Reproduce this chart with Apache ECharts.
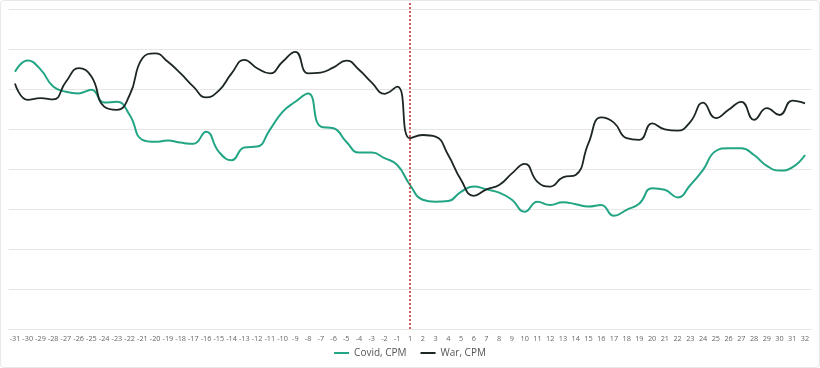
<!DOCTYPE html>
<html>
<head>
<meta charset="utf-8">
<script src="https://cdn.jsdelivr.net/npm/echarts@6/dist/echarts.min.js"></script>
<style>
html,body{margin:0;padding:0;background:#fff;}
#wrap{position:relative;width:820px;height:368px;}
#chart{position:absolute;left:0;top:0;width:820px;height:368px;}
#frame{position:absolute;left:0;top:0;width:818px;height:366px;border:1px solid #e8e8e8;border-radius:4px;pointer-events:none;}
</style>
</head>
<body>
<div id="wrap"><div id="chart"></div><div id="frame"></div></div>
<script>
const categories = ['-31','-30','-29','-28','-27','-26','-25','-24','-23','-22','-21','-20','-19','-18','-17','-16','-15','-14','-13','-12','-11','-10','-9','-8','-7','-6','-5','-4','-3','-2','-1',
  '1','2','3','4','5','6','7','8','9','10','11','12','13','14','15','16','17','18','19','20','21','22','23','24','25','26','27','28','29','30','31','32'];

const covid = [6.43,6.71,6.49,6.06,5.93,5.89,5.98,5.66,5.68,5.35,4.73,4.68,4.71,4.66,4.63,4.93,4.43,4.22,4.54,4.56,4.98,5.43,5.68,5.89,5.06,5.02,4.68,4.41,4.41,4.27,4.10,
  3.60,3.23,3.18,3.20,3.43,3.56,3.49,3.41,3.23,2.93,3.18,3.10,3.17,3.12,3.06,3.10,2.83,2.98,3.14,3.52,3.48,3.29,3.60,3.98,4.45,4.52,4.52,4.35,4.08,3.96,4.04,4.35];

const war = [6.14,5.73,5.77,5.74,6.18,6.52,6.31,5.56,5.48,5.85,6.77,6.89,6.68,6.39,6.06,5.79,5.96,6.39,6.73,6.52,6.39,6.68,6.93,6.39,6.41,6.54,6.71,6.48,6.16,5.88,6.06,
  4.77,4.85,4.81,4.35,3.73,3.33,3.49,3.60,3.89,4.13,3.68,3.56,3.79,3.85,4.64,5.29,5.16,4.77,4.73,5.14,4.99,4.96,5.18,5.66,5.27,5.48,5.68,5.23,5.52,5.35,5.71,5.64];

const eventDay = '1';
const seriesNames = ['Covid, CPM','War, CPM'];

const chart = echarts.init(document.getElementById('chart'));
chart.setOption({
  animation:false,
  textStyle:{fontFamily:'"Open Sans", sans-serif'},
  grid:{left:8.6,right:8.6,top:1,bottom:39,containLabel:false},
  legend:{
    bottom:5,left:'center',
    icon:'rect',itemWidth:15,itemHeight:2,itemGap:14,
    textStyle:{fontSize:10,color:'#555'},
    data:seriesNames
  },
  xAxis:{
    type:'category',data:categories,boundaryGap:true,
    axisLine:{show:true,lineStyle:{color:'#e6e6e6'}},
    axisTick:{show:false},
    axisLabel:{interval:0,fontSize:7.3,fontFamily:'"Open Sans", sans-serif',color:'#666',margin:6}
  },
  yAxis:{
    type:'value',min:0,max:8.2,interval:1,
    axisLabel:{show:false},axisLine:{show:false},axisTick:{show:false},
    splitLine:{show:true,showMaxLine:false,lineStyle:{color:'#e6e6e6',width:1}}
  },
  series:[
    {name:seriesNames[0],type:'line',data:covid,smooth:0.5,symbol:'none',
     lineStyle:{color:'#22a584',width:2},itemStyle:{color:'#22a584'},
     markLine:{silent:true,symbol:'none',label:{show:false},
       lineStyle:{color:'#c0282d',type:[2,2],width:1.5},
       data:[{xAxis:eventDay}]}},
    {name:seriesNames[1],type:'line',data:war,smooth:0.5,symbol:'none',
     lineStyle:{color:'#1c2623',width:1.8},itemStyle:{color:'#1c2623'}}
  ]
});
</script>
</body>
</html>
